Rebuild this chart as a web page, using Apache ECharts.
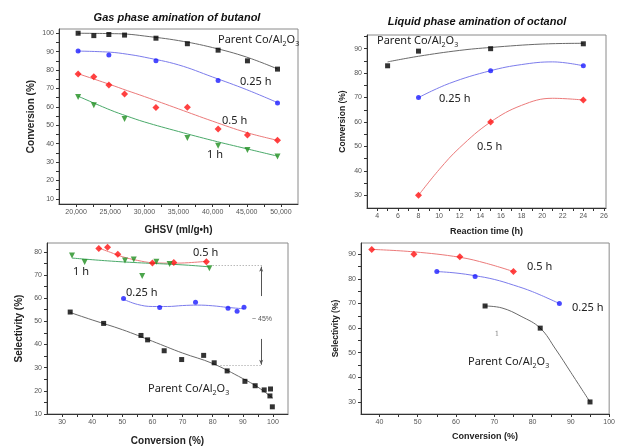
<!DOCTYPE html>
<html>
<head>
<meta charset="utf-8">
<script src="https://cdn.jsdelivr.net/npm/echarts@6/dist/echarts.min.js"></script>
<style>
  html, body { margin: 0; padding: 0; background: #fff; }
  #chart { width: 618px; height: 447px; }
</style>
</head>
<body>
<div id="chart"></div>
<script>
// --- gas phase amination of butanol (top left) ---
const gasGhsv = [20300, 22600, 24800, 27100, 31700, 36300, 40800, 45100, 49500]
const gasParent = [100, 98.7, 99.3, 99, 97.3, 94.3, 90.8, 85, 80.5]
const gasGhsv025 = [20300, 24800, 31700, 40800, 49500]
const gas025 = [90.4, 88.2, 85, 74.3, 62.1]
const gas05 = [77.9, 76.4, 71.9, 67, 59.6, 59.8, 48, 44.7, 41.8]
const gasGhsv1h = [20300, 22600, 27100, 36300, 40800, 45100, 49500]
const gas1h = [65.4, 60.9, 53.4, 43.1, 38.8, 36.6, 33]
// fitted curves
const gasFitX = [20300, 25000, 27500, 30000, 35000, 40000, 45000, 49500]
const gasParentFit = [100, 99.8, 99.5, 98.5, 96, 92.2, 87, 80.6]
const gas025Fit = [90.3, 89.7, 88.6, 87, 82.8, 76.2, 69.3, 62.3]
const gas05Fit = [78, 72.1, 68.8, 65.6, 58.9, 52.2, 46, 41.8]
const gas1hFit = [65.8, 58.3, 54.9, 51.8, 46.6, 41.7, 37.2, 33.2]
const gasXTicks = [20000, 22500, 25000, 27500, 30000, 32500, 35000, 37500, 40000, 42500, 45000, 47500, 50000]
const gasXLabels = [20000, 25000, 30000, 35000, 40000, 45000, 50000]
const gasYTicks = [10, 15, 20, 25, 30, 35, 40, 45, 50, 55, 60, 65, 70, 75, 80, 85, 90, 95, 100]
const gasYLabels = [10, 20, 30, 40, 50, 60, 70, 80, 90, 100]

// --- liquid phase amination of octanol (top right) ---
const liqTime = [5, 8, 15, 24]
const liqParent = [83, 89, 90, 92]
const liqTime2 = [8, 15, 24]
const liq025 = [70, 81, 83]
const liq05 = [30, 60, 69]
const liqParentFitX = [5, 8, 12, 15, 20, 24]
const liqParentFit = [84.6, 86.9, 89.3, 90.5, 91.9, 92.2]
const liq025FitX = [8, 11, 15, 18, 21, 24]
const liq025Fit = [70, 75.8, 81, 83.5, 84.6, 83]
const liq05FitX = [8, 10, 12, 15, 18, 21, 24]
const liq05Fit = [30, 40.5, 49.5, 60, 66.8, 69.7, 69]
const liqXTicks = [4, 5, 6, 7, 8, 9, 10, 11, 12, 13, 14, 15, 16, 17, 18, 19, 20, 21, 22, 23, 24, 25, 26]
const liqXLabels = [4, 6, 8, 10, 12, 14, 16, 18, 20, 22, 24, 26]
const liqYTicks = [30, 35, 40, 45, 50, 55, 60, 65, 70, 75, 80, 85, 90, 95]
const liqYLabels = [30, 40, 50, 60, 70, 80, 90]

// --- selectivity vs conversion, gas phase (bottom left) ---
const selParentX = [32.7, 43.8, 56.2, 58.4, 63.9, 69.7, 77.0, 80.5, 84.8, 90.7, 94.1, 97.1, 99.2, 99.0, 99.8]
const selParent = [54.0, 49.1, 43.9, 42.0, 37.3, 33.5, 35.3, 32.1, 28.6, 24.1, 22.2, 20.4, 20.8, 17.8, 13.1]
const sel05X = [42.2, 45.1, 48.5, 60, 67.1, 77.9]
const sel05 = [81.4, 82, 78.9, 75.2, 75.4, 75.7]
const sel1hX = [33.3, 37.5, 50.9, 53.8, 56.6, 61.3, 65.7, 78.9]
const sel1h = [78.4, 75.6, 76.2, 76.7, 69.6, 75.7, 74.7, 72.9]
const sel025X = [50.4, 62.4, 74.3, 85.1, 88.1, 90.4]
const sel025 = [59.9, 56.0, 58.2, 55.6, 54.3, 56.1]
const selParentFitX = [32.7, 40, 50, 60, 70, 80, 90, 95, 100]
const selParentFit = [53.8, 50.6, 46.4, 41.4, 36.3, 31.8, 25.3, 21.6, 16.8]
const sel05FitX = [42.2, 46, 50, 55, 60, 67, 72, 77.9]
const sel05Fit = [81.6, 79.8, 77.9, 76.3, 75.3, 75.1, 75.3, 75.9]
const sel1hFitX = [33.3, 45, 55, 65, 72, 78.9]
const sel1hFit = [77.3, 76.1, 75.3, 74.7, 74.2, 73.5]
const sel025FitX = [50.4, 55, 60, 65, 70, 75, 80, 85, 90.4]
const sel025Fit = [59.5, 57.3, 56.4, 56.4, 56.8, 57, 56.7, 56, 55.4]
// dotted guides and arrows marking the ~45% gap
const gapTop = 74.4
const gapBottom = 31.0
const gapTopFrom = 80
const gapBottomFrom = 82.6
const gapTo = 96.4
const gapArrowX = 96.1
const gapArrowUp = [60.9, 73.6]
const gapArrowDown = [42.4, 31.3]
const selXTicks = [30, 35, 40, 45, 50, 55, 60, 65, 70, 75, 80, 85, 90, 95, 100]
const selXLabels = [30, 40, 50, 60, 70, 80, 90, 100]
const selYTicks = [10, 15, 20, 25, 30, 35, 40, 45, 50, 55, 60, 65, 70, 75, 80]
const selYLabels = [10, 20, 30, 40, 50, 60, 70, 80]

// --- selectivity vs conversion, liquid phase (bottom right) ---
const sl05X = [38, 49, 61, 75]
const sl05 = [92, 90, 89, 83]
const sl025X = [55, 65, 87]
const sl025 = [83, 81, 70]
const slParentX = [67.6, 82, 95]
const slParent = [69, 60, 30]
const sl05FitX = [38, 49, 61, 68, 75]
const sl05Fit = [92, 91, 88.8, 86.3, 83]
const sl025FitX = [55, 60, 65, 70, 75, 80, 87]
const sl025Fit = [83, 82.4, 81.3, 79.8, 77.5, 74.8, 70]
const slParentFitX = [67.6, 72, 77, 82, 86, 90, 95]
const slParentFit = [69, 68.2, 64.8, 60, 51.5, 42, 30]
const slXTicks = [40, 45, 50, 55, 60, 65, 70, 75, 80, 85, 90, 95, 100]
const slXLabels = [40, 50, 60, 70, 80, 90, 100]
const slYTicks = [30, 35, 40, 45, 50, 55, 60, 65, 70, 75, 80, 85, 90]
const slYLabels = [30, 40, 50, 60, 70, 80, 90]

const pairs = (xs, ys) => xs.map((x, i) => [x, ys[i]])

const C = {
  parent: '#000000', parentLine: '#6a6a6a',
  q: '#1c1cff', qLine: '#7c7cec',
  h: '#ff1212', hLine: '#ec7a7a',
  one: '#1f8f1f', oneLine: '#4aaa6a',
}
const FONT = 'Liberation Sans'

function axis(gi, min, max, ticks, labels, name, gap, nameSize) {
  return {
    type: 'value', gridIndex: gi, min, max,
    name, nameLocation: 'middle', nameGap: gap,
    nameTextStyle: { fontFamily: FONT, fontWeight: 'bold', fontSize: nameSize, color: '#222' },
    axisLine: { show: true, lineStyle: { color: '#333', width: 1 } },
    axisTick: { show: true, length: 3, customValues: ticks, lineStyle: { color: '#333' } },
    axisLabel: { customValues: labels, fontFamily: FONT, fontSize: 7, color: '#555', margin: 5 },
    splitLine: { show: false },
  }
}

function dots(name, gi, xs, ys, symbol, size, color, rotate) {
  return {
    name, type: 'scatter', xAxisIndex: gi, yAxisIndex: gi,
    data: pairs(xs, ys), symbol, symbolSize: size, symbolRotate: rotate || 0,
    itemStyle: { color }, z: 5, silent: true,
  }
}

function fit(gi, xs, ys, color) {
  return {
    type: 'line', xAxisIndex: gi, yAxisIndex: gi, data: pairs(xs, ys),
    smooth: 0.4, showSymbol: false, symbol: 'none',
    lineStyle: { width: 1, color }, z: 3, silent: true,
  }
}

function label(x, y, txt, size) {
  return {
    type: 'text', x, y, silent: true,
    style: { text: txt, fontFamily: 'Noto Sans', fontSize: size || 11, fill: '#222', verticalAlign: 'middle' },
  }
}

function parentLabel(x, y) {
  return {
    type: 'text', x, y, silent: true,
    style: {
      text: '{n|Parent Co/Al}{s|2}{n|O}{s|3}',
      verticalAlign: 'middle',
      rich: {
        n: { fontFamily: 'Noto Sans', fontSize: 11, lineHeight: 13, fill: '#222', verticalAlign: 'middle' },
        s: { fontFamily: 'Noto Sans', fontSize: 7, lineHeight: 7, padding: [8, 0, 0, 0], fill: '#222', verticalAlign: 'middle' },
      },
    },
  }
}

function title(x, y, txt) {
  return {
    type: 'text', x, y, silent: true,
    style: { text: txt, fontFamily: FONT, fontWeight: 'bold', fontStyle: 'italic', fontSize: 11, fill: '#111', align: 'center', verticalAlign: 'middle' },
  }
}

const grid = (left, top, width, height) => ({
  left, top, width, height, show: true, borderColor: '#8a8a8a', borderWidth: 1, backgroundColor: 'transparent',
})

const chart = echarts.init(document.getElementById('chart'), null, { renderer: 'canvas' })

const dottedGuide = { lineStyle: { type: [1, 2], color: '#999', width: 1 } }
const arrowLine = { lineStyle: { type: 'solid', color: '#555', width: 1 } }

chart.setOption({
  animation: false,
  backgroundColor: '#fff',
  grid: [
    grid(59, 29, 239, 175),
    grid(367, 35, 239, 173),
    grid(47, 243, 241, 173),
    grid(361, 243, 252, 171),
  ],
  xAxis: [
    axis(0, 17500, 52500, gasXTicks, gasXLabels, 'GHSV (ml/g\u2022h)', 21, 10),
    axis(1, 3, 26.2, liqXTicks, liqXLabels, 'Reaction time (h)', 19, 9),
    axis(2, 25, 105, selXTicks, selXLabels, 'Conversion (%)', 22, 10),
    axis(3, 35.2, 100, slXTicks, slXLabels, 'Conversion (%)', 18, 9),
  ],
  yAxis: [
    axis(0, 7.2, 102.3, gasYTicks, gasYLabels, 'Conversion (%)', 23, 10),
    axis(1, 24.8, 95.6, liqYTicks, liqYLabels, 'Conversion (%)', 20, 8.5),
    axis(2, 10, 83.8, selYTicks, selYLabels, 'Selectivity (%)', 23, 10),
    axis(3, 25.1, 94.6, slYTicks, slYLabels, 'Selectivity (%)', 21, 8.5),
  ],
  series: [
    // top left
    fit(0, gasFitX, gasParentFit, C.parentLine),
    fit(0, gasFitX, gas025Fit, C.qLine),
    fit(0, gasFitX, gas05Fit, C.hLine),
    fit(0, gasFitX, gas1hFit, C.oneLine),
    dots('Parent', 0, gasGhsv, gasParent, 'rect', 5, C.parent),
    dots('0.25 h', 0, gasGhsv025, gas025, 'circle', 5, C.q),
    dots('0.5 h', 0, gasGhsv, gas05, 'diamond', 7, C.h),
    dots('1 h', 0, gasGhsv1h, gas1h, 'triangle', 6, C.one, 180),
    // top right
    fit(1, liqParentFitX, liqParentFit, C.parentLine),
    fit(1, liq025FitX, liq025Fit, C.qLine),
    fit(1, liq05FitX, liq05Fit, C.hLine),
    dots('Parent', 1, liqTime, liqParent, 'rect', 5, C.parent),
    dots('0.25 h', 1, liqTime2, liq025, 'circle', 5, C.q),
    dots('0.5 h', 1, liqTime2, liq05, 'diamond', 7, C.h),
    // bottom left
    fit(2, selParentFitX, selParentFit, C.parentLine),
    fit(2, sel05FitX, sel05Fit, C.hLine),
    fit(2, sel1hFitX, sel1hFit, C.oneLine),
    fit(2, sel025FitX, sel025Fit, C.qLine),
    Object.assign(dots('Parent', 2, selParentX, selParent, 'rect', 5, C.parent), {
      markLine: {
        silent: true, symbol: 'none', label: { show: false },
        data: [
          [{ coord: [gapTopFrom, gapTop], ...dottedGuide }, { coord: [gapTo, gapTop] }],
          [{ coord: [gapBottomFrom, gapBottom], ...dottedGuide }, { coord: [gapTo, gapBottom] }],
          [{ coord: [gapArrowX, gapArrowUp[0]], symbol: 'none', ...arrowLine },
           { coord: [gapArrowX, gapArrowUp[1]], symbol: 'arrow', symbolSize: [3, 5] }],
          [{ coord: [gapArrowX, gapArrowDown[0]], symbol: 'none', ...arrowLine },
           { coord: [gapArrowX, gapArrowDown[1]], symbol: 'arrow', symbolSize: [3, 5] }],
        ],
      },
    }),
    dots('0.5 h', 2, sel05X, sel05, 'diamond', 7, C.h),
    dots('1 h', 2, sel1hX, sel1h, 'triangle', 6, C.one, 180),
    dots('0.25 h', 2, sel025X, sel025, 'circle', 5, C.q),
    // bottom right
    fit(3, sl05FitX, sl05Fit, C.hLine),
    fit(3, sl025FitX, sl025Fit, C.qLine),
    fit(3, slParentFitX, slParentFit, C.parentLine),
    dots('0.5 h', 3, sl05X, sl05, 'diamond', 7, C.h),
    dots('0.25 h', 3, sl025X, sl025, 'circle', 5, C.q),
    dots('Parent', 3, slParentX, slParent, 'rect', 5, C.parent),
  ],
  graphic: [
    title(177, 18, 'Gas phase amination of butanol'),
    title(477, 22, 'Liquid phase amination of octanol'),
    parentLabel(218, 40),
    label(240, 82, '0.25 h'),
    label(222, 121, '0.5 h'),
    label(207, 155, '1 h'),
    parentLabel(377, 41),
    label(439, 99, '0.25 h'),
    label(477, 147, '0.5 h'),
    label(193, 253, '0.5 h'),
    label(73, 272, '1 h'),
    label(126, 293, '0.25 h'),
    parentLabel(148, 389),
    {
      type: 'text', x: 262, y: 319, silent: true,
      style: { text: '~ 45%', fontFamily: FONT, fontSize: 7, fill: '#555', align: 'center', verticalAlign: 'middle' },
    },
    label(527, 267, '0.5 h'),
    label(572, 308, '0.25 h'),
    parentLabel(468, 362),
    {
      type: 'text', x: 497, y: 334, silent: true,
      style: { text: '1', fontFamily: 'DejaVu Serif', fontSize: 7, fill: '#888', align: 'center', verticalAlign: 'middle' },
    },
  ],
})

window.addEventListener('resize', () => chart.resize())
</script>
</body>
</html>
